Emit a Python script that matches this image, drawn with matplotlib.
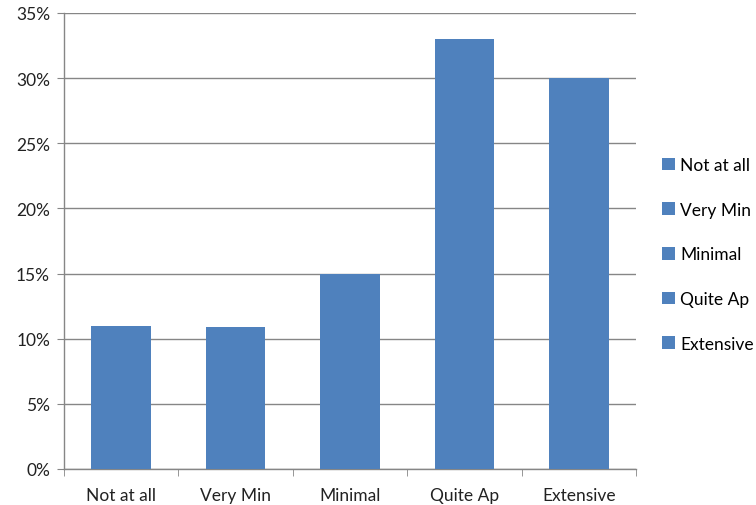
import numpy as np
import matplotlib
matplotlib.use('Agg')
from matplotlib import pyplot as plt
from matplotlib.ticker import FuncFormatter, MultipleLocator, FixedLocator

# data
categories = ['Not at all', 'Very Min', 'Minimal', 'Quite Ap', 'Extensive']
values = [0.110, 0.109, 0.150, 0.330, 0.300]

bar_color = '#4F81BD'
grid_color = '#868686'

plt.rcParams['font.family'] = ['Lato', 'DejaVu Sans']

fig = plt.figure(figsize=(7.56, 5.06), dpi=100)
ax = fig.add_axes([64 / 756, 36 / 506, (636 - 64) / 756, (470 - 14) / 506])

x = np.arange(len(categories))
for i, (cat, val) in enumerate(zip(categories, values)):
    ax.bar(x[i], val, width=0.52, color=bar_color, label=cat, zorder=3)

ax.set_xlim(-0.5, len(categories) - 0.5)
ax.set_ylim(0, 0.35)
ax.yaxis.set_major_locator(MultipleLocator(0.05))
ax.yaxis.set_major_formatter(FuncFormatter(lambda v, p: '{:.0f}%'.format(v * 100)))
ax.yaxis.grid(True, color=grid_color, linewidth=1, zorder=0)

ax.set_xticks(x)
ax.set_xticklabels(categories)
ax.xaxis.set_minor_locator(FixedLocator(np.arange(-0.5, len(categories), 1.0)))
ax.tick_params(axis='x', which='major', length=0, pad=13, labelsize=12.5, colors='#222222')
ax.tick_params(axis='x', which='minor', length=5, color=grid_color, direction='out')
ax.tick_params(axis='y', length=5, color=grid_color, pad=5, labelsize=12.5, colors='#222222')

for side in ['top', 'right']:
    ax.spines[side].set_visible(False)
for side in ['left', 'bottom']:
    ax.spines[side].set_color(grid_color)
    ax.spines[side].set_linewidth(1)

ax.legend(loc='upper left', bbox_to_anchor=(662 / 756, 1 - 158 / 506), bbox_transform=fig.transFigure,
          frameon=False, fontsize=12.5, handlelength=0.75, handleheight=0.75, handletextpad=0.3,
          labelspacing=1.65, borderaxespad=0, borderpad=0)

fig.savefig('out.png', dpi=100)
